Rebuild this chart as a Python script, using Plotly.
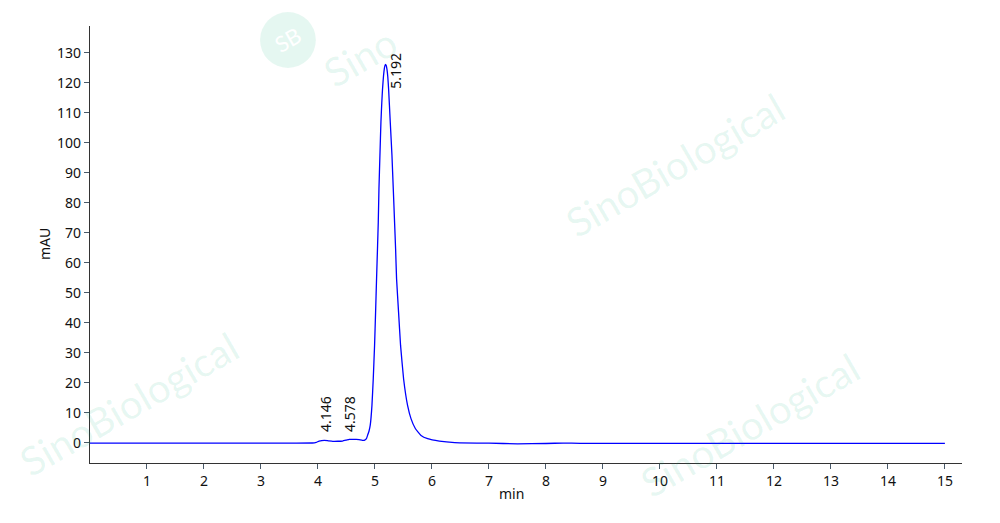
import plotly.graph_objects as go

# Chromatogram (time in min, absorbance in mAU)
time_min = [0.0, 1.0, 2.0, 3.0, 3.5, 3.9, 3.97, 4.02, 4.11, 4.18, 4.26, 4.35, 4.43, 4.50, 4.55,
            4.62, 4.67, 4.72, 4.78, 4.82, 4.85, 4.87, 4.895, 4.917, 4.947, 4.97, 4.993, 5.011,
            5.028, 5.046, 5.058, 5.07, 5.087, 5.105, 5.12, 5.133, 5.15, 5.165, 5.175, 5.185,
            5.197, 5.21, 5.225, 5.239, 5.268, 5.298, 5.321, 5.344, 5.362, 5.379, 5.414, 5.449,
            5.502, 5.572, 5.632, 5.708, 5.808, 5.924, 6.13, 6.4, 7.0, 7.5, 8.0, 8.3, 8.6, 9.0,
            10.0, 11.0, 12.0, 13.0, 14.0, 15.0]
mau = [-0.2, -0.2, -0.2, -0.2, -0.18, -0.13, 0.1, 0.5, 0.77, 0.6, 0.43, 0.45, 0.53, 0.85, 1.1,
       1.1, 1.1, 1.0, 0.77, 0.8, 1.3, 2.4, 3.8, 5.8, 12.4, 21.3, 32.4, 43.5,
       54.6, 65.8, 73.5, 84.7, 95.8, 107.0, 113.5, 118.0, 122.3, 124.8, 125.7, 126.1,
       125.7, 124.5, 122.0, 118.0, 107.0, 95.8, 84.7, 73.5, 64.6, 54.6, 43.5, 32.4,
       21.3, 12.4, 8.0, 4.7, 2.4, 1.3, 0.5, 0.0, -0.2, -0.4, -0.3, -0.15, -0.25, -0.25,
       -0.25, -0.25, -0.25, -0.25, -0.25, -0.25]

peak_labels = ["4.146", "4.578", "5.192"]
label_x = [4.13, 4.55, 5.36]
label_y = [3.0, 3.0, 117.5]

x_ticks = list(range(1, 16))
y_ticks = list(range(0, 131, 10))

fig = go.Figure()

# faint watermarks (drawn first, semi-transparent)
wm_color = "rgba(0,175,120,0.10)"
fig.add_shape(type="circle", xref="paper", yref="paper", x0=0.195, x1=0.259, y0=0.904, y1=1.032,
              fillcolor=wm_color, line=dict(width=0), layer="below")
fig.add_annotation(xref="paper", yref="paper", x=0.227, y=0.968, text="SB", textangle=-30,
                   showarrow=False, xanchor="center", yanchor="middle",
                   font=dict(family="Lato", size=22, color="white"))
fig.add_annotation(xref="paper", yref="paper", x=0.31, y=0.93, text="Sino", textangle=-30,
                   showarrow=False, xanchor="center", yanchor="middle",
                   font=dict(family="Lato", size=40, color=wm_color))
for (px, py) in [(0.671, 0.682), (0.045, 0.135), (0.757, 0.087)]:
    fig.add_annotation(xref="paper", yref="paper", x=px, y=py, text="SinoBiological",
                       textangle=-30, showarrow=False, xanchor="center", yanchor="middle",
                       font=dict(family="Lato", size=40, color=wm_color))

fig.add_trace(go.Scatter(x=time_min, y=mau, mode="lines",
                         line=dict(color="#0000ff", width=1.3, shape="spline", smoothing=0.3),
                         hoverinfo="skip", showlegend=False))

for lx, ly, txt in zip(label_x, label_y, peak_labels):
    fig.add_annotation(x=lx, y=ly, text=txt, textangle=-90, showarrow=False,
                       xanchor="center", yanchor="bottom",
                       font=dict(family="Noto Sans", size=14, color="#111111"))

# axis titles
fig.add_annotation(xref="paper", yref="paper", x=-0.0528, y=0.501, text="mAU", textangle=-90,
                   showarrow=False, xanchor="center", yanchor="middle",
                   font=dict(family="Noto Sans", size=14, color="#111111"))
fig.add_annotation(xref="paper", yref="paper", x=0.483, y=-0.069, text="min",
                   showarrow=False, xanchor="center", yanchor="middle",
                   font=dict(family="Noto Sans", size=14, color="#111111"))

fig.update_layout(
    width=984, height=507,
    margin=dict(l=82, r=30, t=18, b=52, autoexpand=False),
    paper_bgcolor="white", plot_bgcolor="white",
    font=dict(family="Noto Sans", size=14, color="#111111"),
    xaxis=dict(range=[0, 15.3], tickvals=x_ticks, ticks="outside", ticklen=5,
               tickcolor="#4a5a6a", showline=True, linecolor="#333333", linewidth=1.2,
               showgrid=False, zeroline=False, automargin=False),
    yaxis=dict(range=[-6.8, 138.9], tickvals=y_ticks, ticks="outside", ticklen=5,
               tickcolor="#4a5a6a", showline=True, linecolor="#333333", linewidth=1.2,
               showgrid=False, zeroline=False, automargin=False),
)

fig.write_html("out.html")
